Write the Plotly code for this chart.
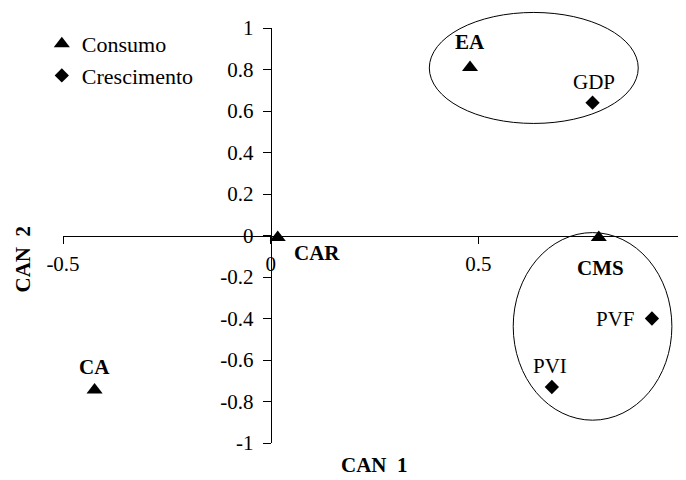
import plotly.graph_objects as go

# ---- data ----
consumo_names = ["EA", "CAR", "CA", "CMS"]
consumo_can1 = [0.48, 0.017, -0.424, 0.79]
consumo_can2 = [0.81, -0.01, -0.745, -0.01]

cresc_names = ["GDP", "PVF", "PVI"]
cresc_can1 = [0.775, 0.918, 0.677]
cresc_can2 = [0.64, -0.40, -0.73]

x_ticks = [-0.5, 0, 0.5, 1]
y_ticks = [-1, -0.8, -0.6, -0.4, -0.2, 0, 0.2, 0.4, 0.6, 0.8, 1]

# groups circled (data units: x0, x1, y0, y1)
group_ellipses = [(0.382, 0.885, 0.54, 1.075), (0.584, 0.966, -0.89, 0.014)]

# ---- styling ----
XR = [-0.5, 1.0]
YR = [-1.0, 1.0]
FONT = "Liberation Serif"

label_offsets = {
    "EA": dict(xshift=0, yshift=25, xanchor="center"),
    "CAR": dict(xshift=39, yshift=-15, xanchor="center"),
    "CA": dict(xshift=0, yshift=23, xanchor="center"),
    "CMS": dict(xshift=2, yshift=-30, xanchor="center"),
    "GDP": dict(xshift=1, yshift=21, xanchor="center"),
    "PVF": dict(xshift=-15, yshift=0, xanchor="right"),
    "PVI": dict(xshift=-2, yshift=21, xanchor="center"),
}

fig = go.Figure()
fig.add_trace(go.Scatter(
    x=consumo_can1, y=consumo_can2, mode="markers", name="Consumo",
    marker=dict(symbol="triangle-up", size=14, color="black"),
    cliponaxis=False,
))
fig.add_trace(go.Scatter(
    x=cresc_can1, y=cresc_can2, mode="markers", name="Crescimento",
    marker=dict(symbol="diamond", size=11, color="black"),
    cliponaxis=False,
))

annotations = []
for names, xs, ys, bold in [(consumo_names, consumo_can1, consumo_can2, True),
                            (cresc_names, cresc_can1, cresc_can2, False)]:
    for n, x, y in zip(names, xs, ys):
        off = label_offsets[n]
        annotations.append(dict(
            x=x, y=y, xref="x", yref="y", text=(f"<b>{n}</b>" if bold else n),
            showarrow=False, yanchor="middle",
            font=dict(family=FONT, size=21, color="black"), **off))

# axis titles
annotations.append(dict(text="<b>CAN  1</b>", x=0.5, xref="paper", y=-0.053, yref="paper",
                        showarrow=False, xanchor="center", yanchor="middle",
                        font=dict(family=FONT, size=21, color="black")))
annotations.append(dict(text="<b>CAN  2</b>", x=0, xref="paper", y=0.5, yref="paper",
                        showarrow=False, xanchor="center", yanchor="middle", textangle=-90,
                        xshift=-41, yshift=-24, font=dict(family=FONT, size=21, color="black")))

shapes = []
for (x0, x1, y0, y1) in group_ellipses:
    shapes.append(dict(
        type="circle", xref="x domain", yref="y domain",
        x0=(x0 - XR[0]) / (XR[1] - XR[0]), x1=(x1 - XR[0]) / (XR[1] - XR[0]),
        y0=(y0 - YR[0]) / (YR[1] - YR[0]), y1=(y1 - YR[0]) / (YR[1] - YR[0]),
        line=dict(color="black", width=1), layer="below"))

fig.update_layout(
    width=678, height=472,
    margin=dict(l=55, r=0, t=20, b=37),
    paper_bgcolor="white", plot_bgcolor="white",
    font=dict(family=FONT, size=21, color="black"),
    showlegend=True,
    legend=dict(x=-0.034, y=1.012, xanchor="left", yanchor="top",
                font=dict(family=FONT, size=22, color="black"),
                bgcolor="rgba(0,0,0,0)", itemwidth=30, tracegroupgap=0),
    xaxis=dict(range=XR, tickvals=x_ticks, ticktext=[str(v) for v in x_ticks],
               showgrid=False, zeroline=False, showline=True, linecolor="black", linewidth=1,
               ticks="outside", ticklen=7, tickcolor="black", anchor="free", position=0.5,
               ticklabelstandoff=2, tickfont=dict(family=FONT, size=21, color="black")),
    yaxis=dict(range=YR, tickvals=y_ticks, ticktext=[("%g" % v) for v in y_ticks],
               showgrid=False, zeroline=False, showline=True, linecolor="black", linewidth=1,
               ticks="outside", ticklen=8, tickcolor="black", anchor="free", position=1/3,
               ticklabelstandoff=5, tickfont=dict(family=FONT, size=21, color="black")),
    annotations=annotations, shapes=shapes,
)

fig.write_html("out.html")
